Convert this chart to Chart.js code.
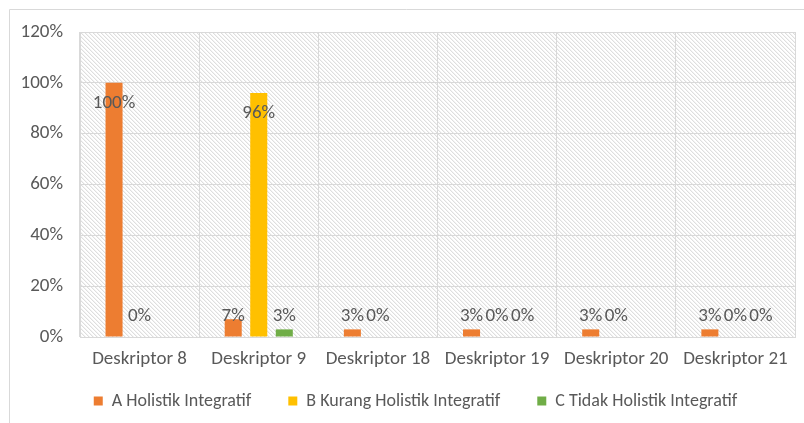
<!DOCTYPE html>
<html>
<head>
<meta charset="utf-8">
<script src="https://cdn.jsdelivr.net/npm/chart.js@4/dist/chart.umd.min.js"></script>
<style>
html,body{margin:0;padding:0;background:#fff;}
#wrap{width:804px;height:423px;}
</style>
</head>
<body>
<div id="wrap"><canvas id="chart" width="804" height="423"></canvas></div>
<script>
/* data */
const categories = ["Deskriptor 8","Deskriptor 9","Deskriptor 18","Deskriptor 19","Deskriptor 20","Deskriptor 21"];
const seriesNames = ["A Holistik Integratif","B Kurang Holistik Integratif","C Tidak Holistik Integratif"];
const seriesA = [100, 7, 3, 3, 3, 3];
const seriesB = [0, 96, 0, 0, 0, 0];
const seriesC = [null, 3, null, 0, null, 0];
const yMax = 120, yStep = 20;

const colors = ["#ED7D31","#FFC000","#70AD47"];
const FONT = "Carlito, Calibri, 'Liberation Sans Narrow', 'Open Sans', sans-serif";
const TXT = "#595959";
const FS = 19;

/* hatch pattern like excel's wide downward diagonal */
function makeHatch(ctx){
    let c=document.createElement("canvas");
    c.width=4; c.height=4;
    let p=c.getContext("2d");
    p.fillStyle="#fff"; p.fillRect(0,0,4,4);
    for(let i=0;i<4;i++){
        p.fillStyle="#dedede"; p.fillRect(i,i,1,1);
        p.fillStyle="#f3f3f3"; p.fillRect((i+1)%4,i,1,1);
    }
    return ctx.createPattern(c,"repeat");
}

const background = {
    id:"background",
    afterLayout(chart){
        // let the x tick labels overflow into the legend band (no clipping)
        chart.scales.x.bottom += 30;
        // legend sits a bit right of centre in the original
        chart.legend.left += 13;
        chart.legend.right += 13;
    },
    beforeDraw(chart){
        let {ctx,chartArea:a}=chart;
        ctx.save();
        ctx.fillStyle=makeHatch(ctx);
        ctx.fillRect(a.left,a.top,a.right-a.left,a.bottom-a.top);
        // outer frame (only top/left visible)
        ctx.strokeStyle="#d9d9d9";
        ctx.lineWidth=1;
        ctx.beginPath();
        ctx.moveTo(9.5,423); ctx.lineTo(9.5,9.5); ctx.lineTo(804,9.5);
        ctx.stroke();
        ctx.restore();
    }
};

/* value labels */
const valueLabels = {
    id:"valueLabels",
    afterDatasetsDraw(chart){
        let ctx=chart.ctx, y=chart.scales.y;
        ctx.save();
        ctx.font=FS+"px "+FONT;
        ctx.fillStyle=TXT;
        ctx.textAlign="center";
        ctx.textBaseline="middle";
        chart.data.datasets.forEach((ds,di)=>{
            let meta=chart.getDatasetMeta(di);
            meta.data.forEach((bar,i)=>{
                let v=ds.data[i];
                if(v===null||v===undefined) return;
                let py=y.getPixelForValue(Math.max(v-8,8));
                ctx.fillText(v+"%",bar.x,py);
            });
        });
        ctx.restore();
    }
};

new Chart(document.getElementById("chart"),{
    type:"bar",
    data:{
        labels:categories,
        datasets:[
            {label:seriesNames[0],data:seriesA,backgroundColor:colors[0]},
            {label:seriesNames[1],data:seriesB,backgroundColor:colors[1]},
            {label:seriesNames[2],data:seriesC,backgroundColor:colors[2]}
        ]
    },
    options:{
        responsive:false,
        animation:false,
        devicePixelRatio:1,
        categoryPercentage:0.643,
        barPercentage:0.667,
        layout:{padding:{left:10,right:9,top:32,bottom:3}},
        scales:{
            x:{
                grid:{color:"#d9d9d9",drawTicks:false,offset:true},
                border:{color:"#d9d9d9"},
                ticks:{color:TXT,font:{family:FONT,size:FS},padding:11},
                afterFit(s){ s.height=18; }
            },
            y:{
                min:0,max:yMax,
                grid:{color:"#d9d9d9",drawTicks:false},
                border:{color:"#d9d9d9"},
                ticks:{stepSize:yStep,color:TXT,font:{family:FONT,size:FS},padding:17,
                    callback:v=>v+"%"},
                afterFit(s){ s.width=70; }
            }
        },
        plugins:{
            legend:{
                position:"bottom",
                labels:{boxWidth:9,boxHeight:9,color:TXT,padding:37,
                    font:{family:FONT,size:18}}
            },
            tooltip:{enabled:false}
        }
    },
    plugins:[background,valueLabels]
});
</script>
</body>
</html>
